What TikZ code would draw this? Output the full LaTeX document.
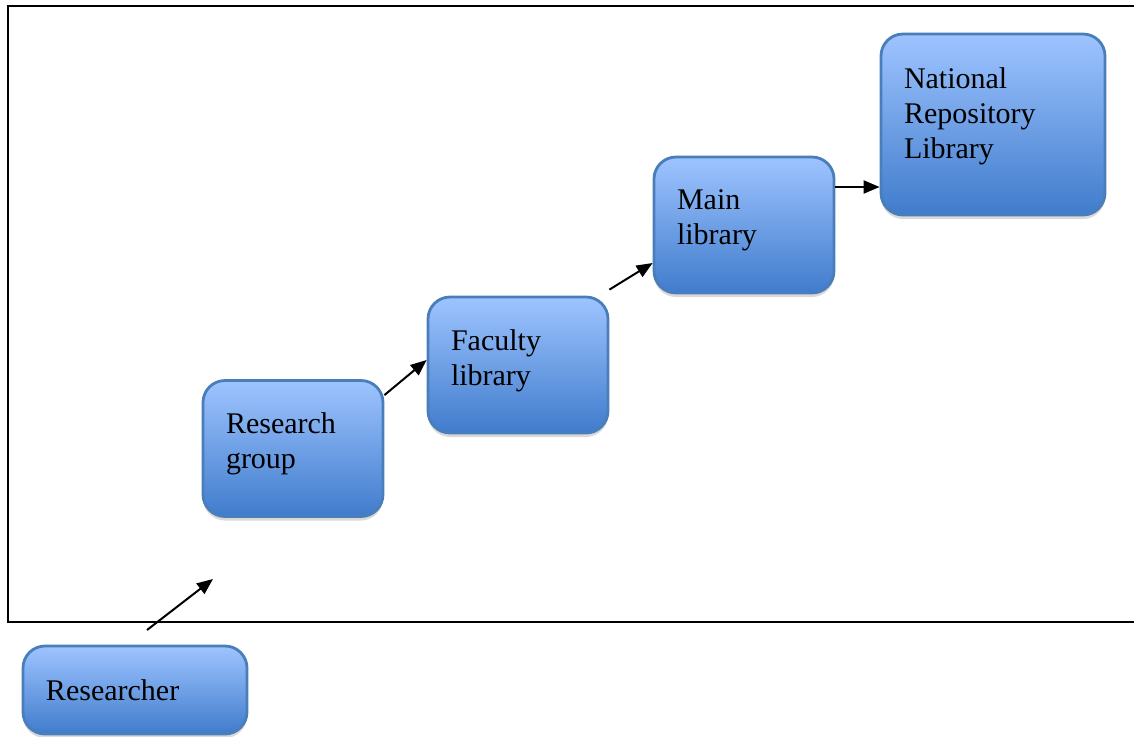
\documentclass[tikz,border=0pt]{standalone}
\usepackage{fontspec}
\setmainfont{Liberation Serif}
\usetikzlibrary{arrows.meta,shadows}

\definecolor{boxtop}{RGB}{158,196,255}
\definecolor{boxbot}{RGB}{64,124,204}
\definecolor{boxline}{RGB}{74,126,187}

\tikzset{
  stage/.style={draw=boxline, line width=1.4pt, rounded corners=11pt,
    top color=boxtop, bottom color=boxbot, align=left,
    inner xsep=11.5pt, inner ysep=0pt,
    drop shadow={shadow xshift=0pt, shadow yshift=-2pt, fill=black!25, opacity=0.6},
    font=\fontsize{15}{17.5}\selectfont},
  flow/.style={-{Triangle[length=8pt,width=6.5pt]}, line width=1pt}
}

\begin{document}
\begin{tikzpicture}[x=0.5pt, y=-0.5pt]
    \useasboundingbox (0,0) rectangle (1134,736);

    % Outer frame (open to the right)
    \draw[line width=1.3pt] (1150,6) -- (8,6) -- (8,622) -- (1150,622);

    % Stages
    \node[stage, minimum width=112pt, minimum height=44pt, text width=89pt] (res) at (135,690) {Researcher};
    \node[stage, minimum width=90pt, minimum height=68pt, text width=67pt, text depth=25pt] (grp) at (293,448.5) {Research\\group};
    \node[stage, minimum width=90pt, minimum height=68pt, text width=67pt, text depth=25pt] (fac) at (518,365) {Faculty\\library};
    \node[stage, minimum width=90pt, minimum height=68pt, text width=67pt, text depth=25pt] (main) at (744,225) {Main\\library};
    \node[stage, minimum width=112pt, minimum height=90.5pt, text width=89pt, text depth=46pt] (nat) at (993,124.5) {National\\Repository\\Library};

    % Flow between stages
    \coordinate (resout) at (147,630);
    \coordinate (resin) at (213,579);
    \draw[flow] (resout) -- (resin);
    \draw[flow] ([yshift=-8pt]grp.north east) -- ([yshift=2.5pt]fac.west);
    \draw[flow] ([yshift=3pt]fac.north east) -- ([yshift=-19pt]main.west);
    \draw[flow] ([yshift=19pt]main.east) -- ([yshift=19pt]main.east -| nat.west);
\end{tikzpicture}
\end{document}
